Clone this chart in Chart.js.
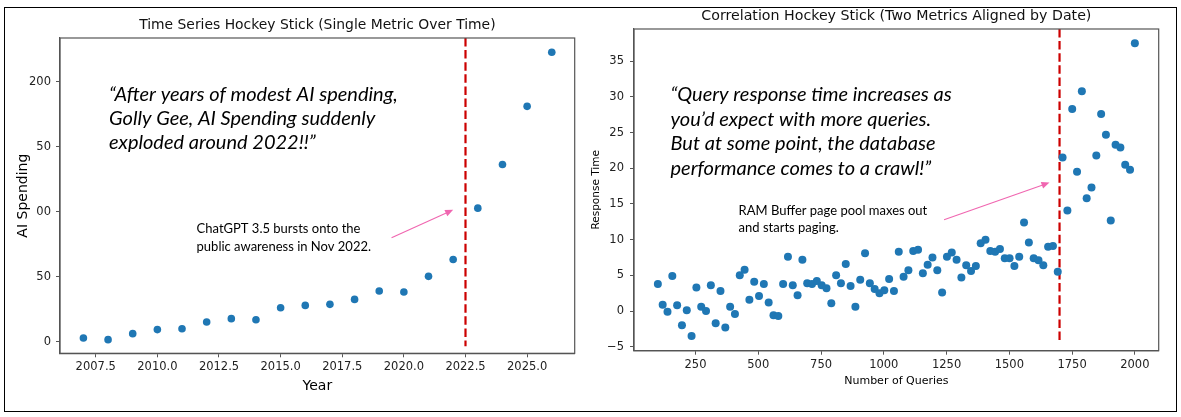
<!DOCTYPE html>
<html><head><meta charset="utf-8">
<script src="https://cdn.jsdelivr.net/npm/chart.js@4"></script>
<style>
html,body{margin:0;padding:0;background:#fff;}
#wrap{position:relative;width:1181px;height:417px;overflow:hidden;background:#fff;}
#frame{position:absolute;left:4px;top:7px;width:1171px;height:403px;border:1.5px solid #000;pointer-events:none;}
canvas{position:absolute;top:0;}
</style></head><body>
<div id="wrap">
<canvas id="c1" width="590" height="417" style="left:0"></canvas>
<canvas id="c2" width="591" height="417" style="left:590px"></canvas>
<div id="frame"></div>
</div>
<script>
// ---------- Left chart data ----------
const years = [2007,2008,2009,2010,2011,2012,2013,2014,2015,2016,2017,2018,2019,2020,2021,2022,2023,2024,2025,2026];
const aiSpending = [3.1,1.8,6.4,9.5,10.2,15.3,17.9,17.1,26.3,28.1,28.9,32.7,39.1,38.4,50.4,63.4,102.8,136.3,181.0,222.5];
const yearTicks = [2007.5,2010,2012.5,2015,2017.5,2020,2022.5,2025];
const yearTickLabels = ['2007.5','2010.0','2012.5','2015.0','2017.5','2020.0','2022.5','2025.0'];
const spendTicks = [0,50,100,150,200];
const spendTickLabels = ['0','50','00','50','200'];
const spendMarker = 2022.5;
const leftTitle = 'Time Series Hockey Stick (Single Metric Over Time)';
const leftQuote = ['\u201CAfter years of modest AI spending,','Golly Gee, AI Spending suddenly','exploded around 2022!!\u201D'];
const leftNote = ['ChatGPT 3.5 bursts onto the','public awareness in Nov 2022.'];

// ---------- Right chart data ----------
const queries = [100.0,119.2,138.4,157.6,176.8,196.0,215.2,234.3,253.5,272.7,
291.9,311.1,330.3,349.5,368.7,387.9,407.1,426.3,445.5,464.6,
483.8,503.0,522.2,541.4,560.6,579.8,599.0,618.2,637.4,656.6,
675.8,694.9,714.1,733.3,752.5,771.7,790.9,810.1,829.3,848.5,
867.7,886.9,906.1,925.3,944.4,963.6,982.8,1002.0,1021.2,1040.4,
1059.6,1078.8,1098.0,1117.2,1136.4,1155.6,1174.7,1193.9,1213.1,1232.3,
1251.5,1270.7,1289.9,1309.1,1328.3,1347.5,1366.7,1385.9,1405.1,1424.2,
1443.4,1462.6,1481.8,1501.0,1520.2,1539.4,1558.6,1577.8,1597.0,1616.2,
1635.4,1654.5,1673.7,1692.9,1712.1,1731.3,1750.5,1769.7,1788.9,1808.1,
1827.3,1846.5,1865.7,1884.8,1904.0,1923.2,1942.4,1961.6,1980.8,2000.0];
const responseTime = [3.8,0.9,-0.1,4.9,0.8,-2.0,0.1,-3.5,3.3,0.6,
0.0,3.6,-1.7,2.8,-2.3,0.6,-0.4,5.0,5.8,1.6,
4.1,2.1,3.8,1.2,-0.6,-0.7,3.8,7.6,3.6,2.2,
7.2,3.9,3.8,4.2,3.6,3.2,1.1,5.0,3.9,6.6,
3.5,0.6,4.4,8.1,3.9,3.1,2.5,2.9,4.5,2.8,
8.3,4.8,5.7,8.4,8.6,5.3,6.5,7.5,5.7,2.6,
7.6,8.2,7.2,4.7,6.4,5.6,6.3,9.5,10.0,8.4,
8.3,8.7,7.4,7.4,6.3,7.6,12.4,9.6,7.4,7.1,
6.4,9.0,9.1,5.5,21.5,14.1,28.3,19.5,30.8,15.8,
17.3,21.8,27.6,24.7,12.7,23.3,22.9,20.5,19.8,37.5];
const queryTicks = [250,500,750,1000,1250,1500,1750,2000];
const queryTickLabels = ['250','500','750','1000','1250','1500','1750','2000'];
const respTicks = [-5,0,5,10,15,20,25,30,35];
const respTickLabels = ['\u22125','0','5','10','15','20','25','30','35'];
const respMarker = 1700;
const rightTitle = 'Correlation Hockey Stick (Two Metrics Aligned by Date)';
const rightQuote = ['\u201CQuery response time increases as','you\u2019d expect with more queries.','But at some point, the database','performance comes to a crawl!\u201D'];
const rightNote = ['RAM Buffer page pool maxes out','and starts paging.'];

const DOT = '#1f77b4';
const TICK_FONT = {family:'DejaVu Sans', size:11.5};

const overlay = {
  id:'overlay',
  beforeDatasetsDraw(chart, args, o){
    const {ctx, chartArea:a, scales:{x}} = chart;
    const px = x.getPixelForValue(o.vline);
    ctx.save();
    ctx.setLineDash([8.5,3.6]);
    ctx.strokeStyle = '#cc0000'; ctx.lineWidth = 2.2;
    ctx.beginPath(); ctx.moveTo(px, a.top); ctx.lineTo(px, a.bottom - 0.022*(a.bottom-a.top)); ctx.stroke();
    ctx.restore();
  },
  afterDraw(chart, args, o){
    const {ctx, chartArea:a, scales:{x,y}} = chart;
    ctx.save();
    ctx.strokeStyle = '#555'; ctx.lineWidth = 1.2;
    ctx.strokeRect(a.left, a.top, a.right-a.left, a.bottom-a.top);
    ctx.fillStyle = '#111';
    ctx.font = o.titleSize + 'px "DejaVu Sans"'; ctx.textAlign = 'center'; ctx.textBaseline = 'middle';
    ctx.fillText(o.title, (a.left+a.right)/2, o.titleY);
    // quote
    ctx.textAlign = 'left';
    ctx.fillStyle = '#000';
    ctx.font = 'italic ' + o.quoteSize + 'px Lato';
    let qx = x.getPixelForValue(o.quoteAt[0]), qy = y.getPixelForValue(o.quoteAt[1]);
    o.quote.forEach((t,i)=>ctx.fillText(t, qx, qy + i*o.quoteGap));
    // note
    ctx.font = o.noteSize + 'px Lato';
    let nx = x.getPixelForValue(o.noteAt[0]), ny = y.getPixelForValue(o.noteAt[1]);
    o.note.forEach((t,i)=>ctx.fillText(t, nx, ny + i*o.noteGap));
    // arrow
    const x0 = x.getPixelForValue(o.arrow[0]), y0 = y.getPixelForValue(o.arrow[1]);
    const x1 = x.getPixelForValue(o.arrow[2]), y1 = y.getPixelForValue(o.arrow[3]);
    const ang = Math.atan2(y1-y0, x1-x0), L = 8, W = 3.5;
    ctx.strokeStyle = '#f066b0'; ctx.fillStyle = '#f066b0'; ctx.lineWidth = 1.1;
    ctx.beginPath(); ctx.moveTo(x0,y0); ctx.lineTo(x1 - L*Math.cos(ang)*0.8, y1 - L*Math.sin(ang)*0.8); ctx.stroke();
    ctx.beginPath();
    ctx.moveTo(x1,y1);
    ctx.lineTo(x1 - L*Math.cos(ang) + W*Math.sin(ang), y1 - L*Math.sin(ang) - W*Math.cos(ang));
    ctx.lineTo(x1 - L*Math.cos(ang) - W*Math.sin(ang), y1 - L*Math.sin(ang) + W*Math.cos(ang));
    ctx.closePath(); ctx.fill();
    ctx.restore();
  }
};

function axis(min, max, ticks, labels, fit, titleText, titleSize, titlePad, tickPad){
  return {
    type:'linear', min, max,
    afterBuildTicks: s => { s.ticks = ticks.map(v=>({value:v})); },
    afterFit: fit,
    ticks:{ autoSkip:false, maxRotation:0, color:'#222', font:TICK_FONT, padding:tickPad,
      callback: (v)=> { const i = ticks.indexOf(v); return i>=0 ? labels[i] : ''; } },
    grid:{ display:true, drawOnChartArea:false, drawTicks:true, tickLength:4, color:'#555', lineWidth:1 },
    border:{ display:true, color:'#555', width:1.2 },
    title:{ display:true, text:titleText, color:'#000', font:{family:'DejaVu Sans', size:titleSize}, padding:titlePad }
  };
}

new Chart(document.getElementById('c1'), {
  type:'scatter',
  data:{ datasets:[{ data: years.map((v,i)=>({x:v, y:aiSpending[i]})), backgroundColor:DOT, borderWidth:0, pointRadius:3.8, pointHoverRadius:3.8 }]},
  options:{
    responsive:false, animation:false, events:[],
    layout:{ padding:{ left:0, top:38, right:15.3, bottom:0 } },
    plugins:{ legend:{display:false}, tooltip:{enabled:false},
      overlay:{ title:leftTitle, titleY:25.7, titleSize:13.9, vline:spendMarker,
        quote:leftQuote, quoteAt:[2008.04,190], quoteSize:20, quoteGap:24.2,
        note:leftNote, noteAt:[2011.59,86.7], noteSize:13, noteGap:17.7,
        arrow:[2019.5,80,2022.0,101.5] } },
    scales:{
      x: axis(2006.05, 2026.93, yearTicks, yearTickLabels, s=>{s.height=63.7;}, 'Year', 14, {top:0,bottom:22}, 3),
      y: axis(-8.7, 233.5, spendTicks, spendTickLabels, s=>{s.width=60;}, 'AI Spending', 14, {top:15,bottom:0}, 5)
    }
  },
  plugins:[overlay]
});

new Chart(document.getElementById('c2'), {
  type:'scatter',
  data:{ datasets:[{ data: queries.map((v,i)=>({x:v, y:responseTime[i]})), backgroundColor:DOT, borderWidth:0, pointRadius:4, pointHoverRadius:4 }]},
  options:{
    responsive:false, animation:false, events:[],
    layout:{ padding:{ left:0, top:29, right:22.3, bottom:0 } },
    plugins:{ legend:{display:false}, tooltip:{enabled:false},
      overlay:{ title:rightTitle, titleY:16.5, titleSize:14.2, vline:respMarker,
        quote:rightQuote, quoteAt:[150.4,30.34], quoteSize:20, quoteGap:24.7,
        note:rightNote, noteAt:[421.6,14.04], noteSize:13, noteGap:17.3,
        arrow:[1240,12.8,1660,18.0] } },
    scales:{
      x: axis(5, 2095, queryTicks, queryTickLabels, s=>{s.height=66.3;}, 'Number of Queries', 11, {top:0,bottom:29.7}, 3),
      y: axis(-5.55, 39.5, respTicks, respTickLabels, s=>{s.width=44;}, 'Response Time', 10.5, {top:0,bottom:0}, 6)
    }
  },
  plugins:[overlay]
});
</script>
</body></html>
